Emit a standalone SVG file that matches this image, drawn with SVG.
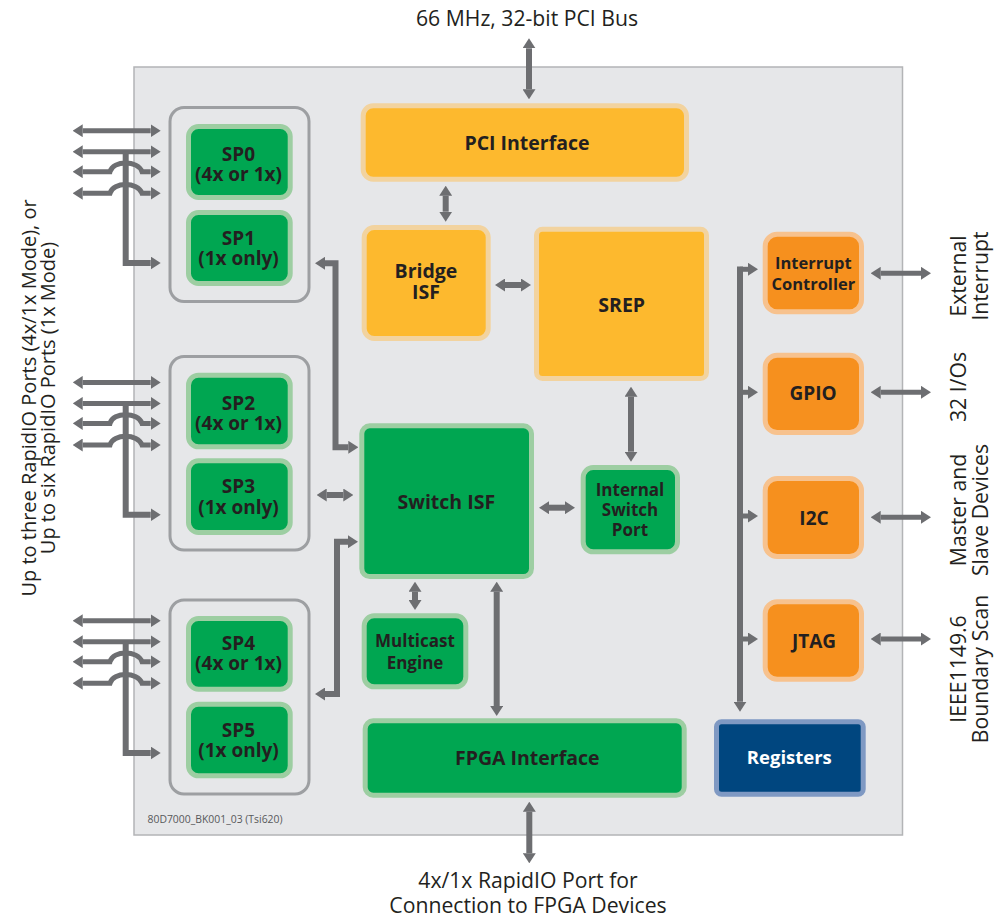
<svg xmlns="http://www.w3.org/2000/svg" width="997" height="921" viewBox="0 0 997 921">
<defs>
<style>
.panel{fill:#e6e7e9;stroke:#b3b4b6;stroke-width:1.5}
.grn{fill:#00a651;stroke:#9dcea2;stroke-width:5}
.yel{fill:#fdb92e;stroke:#f2d39f;stroke-width:5}
.org{fill:#f6901e;stroke:#f7c28e;stroke-width:5}
.blu{fill:#00467f;stroke:#7f99c3;stroke-width:5}
.grp{fill:none;stroke:#9d9fa2;stroke-width:3}
.lbl{font-family:"Open Sans","Noto Sans",sans-serif;font-weight:bold;fill:#231f20;text-anchor:middle}
.out{font-family:"Open Sans","Noto Sans",sans-serif;fill:#231f20;font-size:21.2px;text-anchor:middle}
.side{font-size:20px}
.cn{fill:none;stroke:#6d6e71;stroke-width:6;stroke-linejoin:miter}
.th{stroke-width:5}
.d{marker-start:url(#ah);marker-end:url(#ah)}
.e{marker-end:url(#ah)}
</style>
<marker id="ah" viewBox="0 0 10 13" refX="0" refY="6.5" markerWidth="10" markerHeight="13" markerUnits="userSpaceOnUse" orient="auto-start-reverse">
<path d="M0,0 L10,6.5 L0,13 Z" fill="#6d6e71"/>
</marker>
<g id="fan">
<path class="cn th d" d="M82.7,130.7 H150.7"/>
<path class="cn th d" d="M82.7,151.7 H150.7"/>
<path class="cn th d" d="M82.7,171.7 H110 C113,160 138,160 142,171.7 H150.7"/>
<path class="cn th d" d="M82.7,193.3 H110 C113,181.6 138,181.6 142,193.3 H150.7"/>
<path class="cn e" d="M125.7,151.7 V263 H150.7"/>
</g>
</defs>

<rect class="panel" x="134" y="67" width="768.5" height="768"/>
<text x="147.5" y="823.3" font-family="'Open Sans','Noto Sans',sans-serif" font-size="10.4" fill="#58595b">80D7000_BK001_03 (Tsi620)</text>

<g id="outer-labels">
<text class="out" x="527" y="26">66 MHz, 32-bit PCI Bus</text>
<text class="out" x="528" y="888">4x/1x RapidIO Port for</text>
<text class="out" x="528" y="913">Connection to FPGA Devices</text>
<text class="out side" transform="translate(36,398) rotate(-90)">Up to three RapidIO Ports (4x/1x Mode), or</text>
<text class="out side" transform="translate(55,398) rotate(-90)">Up to six RapidIO Ports (1x Mode)</text>
<text class="out" transform="translate(966,276) rotate(-90)">External</text>
<text class="out" transform="translate(988,276) rotate(-90)">Interrupt</text>
<text class="out" transform="translate(966,387) rotate(-90)">32 I/Os</text>
<text class="out" transform="translate(966,510) rotate(-90)">Master and</text>
<text class="out" transform="translate(988,510) rotate(-90)">Slave Devices</text>
<text class="out" transform="translate(966,669) rotate(-90)">IEEE1149.6</text>
<text class="out" transform="translate(988,669) rotate(-90)">Boundary Scan</text>
</g>

<g id="port-groups">
<rect class="grp" x="170" y="107.5" width="139" height="194" rx="14"/>
<rect class="grp" x="170" y="356.5" width="139" height="193.5" rx="14"/>
<rect class="grp" x="170" y="600" width="139" height="194" rx="14"/>
</g>

<g id="sp0"><rect class="grn" x="188.5" y="126.5" width="101.7" height="71" rx="10"/>
<text class="lbl" font-size="19" x="238.5" y="161">SP0</text><text class="lbl" font-size="19" x="238.5" y="181">(4x or 1x)</text></g>
<g id="sp1"><rect class="grn" x="188.5" y="212.5" width="101.7" height="71" rx="10"/>
<text class="lbl" font-size="19" x="238.5" y="245">SP1</text><text class="lbl" font-size="19" x="238.5" y="265">(1x only)</text></g>
<g id="sp2"><rect class="grn" x="188.5" y="375.2" width="101.7" height="71.6" rx="10"/>
<text class="lbl" font-size="19" x="238.5" y="410">SP2</text><text class="lbl" font-size="19" x="238.5" y="430">(4x or 1x)</text></g>
<g id="sp3"><rect class="grn" x="188.5" y="460.8" width="101.7" height="71.7" rx="10"/>
<text class="lbl" font-size="19" x="238.5" y="493.3">SP3</text><text class="lbl" font-size="19" x="238.5" y="514">(1x only)</text></g>
<g id="sp4"><rect class="grn" x="188.5" y="618.5" width="101.7" height="70.7" rx="10"/>
<text class="lbl" font-size="19" x="238.5" y="650">SP4</text><text class="lbl" font-size="19" x="238.5" y="670">(4x or 1x)</text></g>
<g id="sp5"><rect class="grn" x="188.5" y="704.2" width="101.7" height="71.6" rx="10"/>
<text class="lbl" font-size="19" x="238.5" y="736.7">SP5</text><text class="lbl" font-size="19" x="238.5" y="756.7">(1x only)</text></g>

<g id="pci"><rect class="yel" x="363.2" y="105.8" width="323.3" height="73.4" rx="10"/>
<text class="lbl" font-size="19.5" x="527" y="150">PCI Interface</text></g>
<g id="bridge"><rect class="yel" x="364.2" y="227.5" width="124" height="111" rx="10"/>
<text class="lbl" font-size="19.5" x="426" y="278.3">Bridge</text><text class="lbl" font-size="19.5" x="426" y="299.3">ISF</text></g>
<g id="srep"><rect class="yel" x="536.5" y="229.2" width="170" height="149.3" rx="6"/>
<text class="lbl" font-size="19.5" x="621.7" y="311.7">SREP</text></g>
<g id="switch"><rect class="grn" x="361.8" y="425.8" width="169.7" height="150.7" rx="8"/>
<text class="lbl" font-size="19.5" x="446.3" y="509.3">Switch ISF</text></g>
<g id="isp"><rect class="grn" x="583.2" y="467.5" width="94.3" height="84.3" rx="10"/>
<text class="lbl" font-size="17" x="630" y="496">Internal</text><text class="lbl" font-size="17" x="630" y="516">Switch</text><text class="lbl" font-size="17" x="630" y="536">Port</text></g>
<g id="multicast"><rect class="grn" x="364.2" y="615.8" width="101.6" height="71" rx="10"/>
<text class="lbl" font-size="17" x="415" y="647.3">Multicast</text><text class="lbl" font-size="17" x="415" y="669">Engine</text></g>
<g id="fpga"><rect class="grn" x="365.2" y="720.8" width="319" height="74.4" rx="8"/>
<text class="lbl" font-size="19.5" x="527.3" y="765">FPGA Interface</text></g>
<g id="interrupt"><rect class="org" x="765.2" y="234.2" width="96.3" height="77.6" rx="12"/>
<text class="lbl" font-size="16.5" x="813.3" y="269.3">Interrupt</text><text class="lbl" font-size="16.5" x="813.3" y="290">Controller</text></g>
<g id="gpio"><rect class="org" x="765.2" y="355.2" width="96.3" height="77.3" rx="12"/>
<text class="lbl" font-size="19" x="813" y="400">GPIO</text></g>
<g id="i2c"><rect class="org" x="765.2" y="478.5" width="96.3" height="78" rx="12"/>
<text class="lbl" font-size="19" x="814" y="525">I2C</text></g>
<g id="jtag"><rect class="org" x="765.2" y="601.8" width="96.3" height="77.4" rx="12"/>
<text class="lbl" font-size="19" x="814" y="648.3">JTAG</text></g>
<g id="registers"><rect class="blu" x="716.5" y="721.8" width="146.7" height="72.4" rx="5"/>
<text class="lbl" font-size="18.5" x="789.3" y="764" style="fill:#ffffff">Registers</text></g>

<g id="connectors">
<use href="#fan"/>
<use href="#fan" transform="translate(0,251.7)"/>
<use href="#fan" transform="translate(0,490)"/>
<path class="cn d" d="M325,263.3 H335.5 V447.3 H348.3"/>
<path class="cn d" d="M326.7,495 H343.3"/>
<path class="cn d" d="M325,694 H337 V541.7 H348"/>
<path class="cn d" d="M529,48.3 V89.3"/>
<path class="cn d" d="M445.7,195.7 V211.7"/>
<path class="cn d" d="M505,285 H521"/>
<path class="cn d" d="M631,396.7 V451.7"/>
<path class="cn d" d="M549,507.7 H565"/>
<path class="cn d" d="M415,591.7 V600"/>
<path class="cn d" d="M496.7,591.7 V706"/>
<path class="cn d" d="M529.3,811.7 V853.3"/>
<path class="cn e" d="M740,266.5 V701.7"/>
<path class="cn th e" d="M740,269.3 H748"/>
<path class="cn th e" d="M740,392.3 H748"/>
<path class="cn th e" d="M740,516 H748"/>
<path class="cn th e" d="M740,639 H748"/>
<path class="cn th d" d="M880.7,273.3 H921"/>
<path class="cn th d" d="M880.7,392.3 H921"/>
<path class="cn th d" d="M880.7,517.3 H921"/>
<path class="cn th d" d="M880.7,639 H921"/>
</g>
</svg>
